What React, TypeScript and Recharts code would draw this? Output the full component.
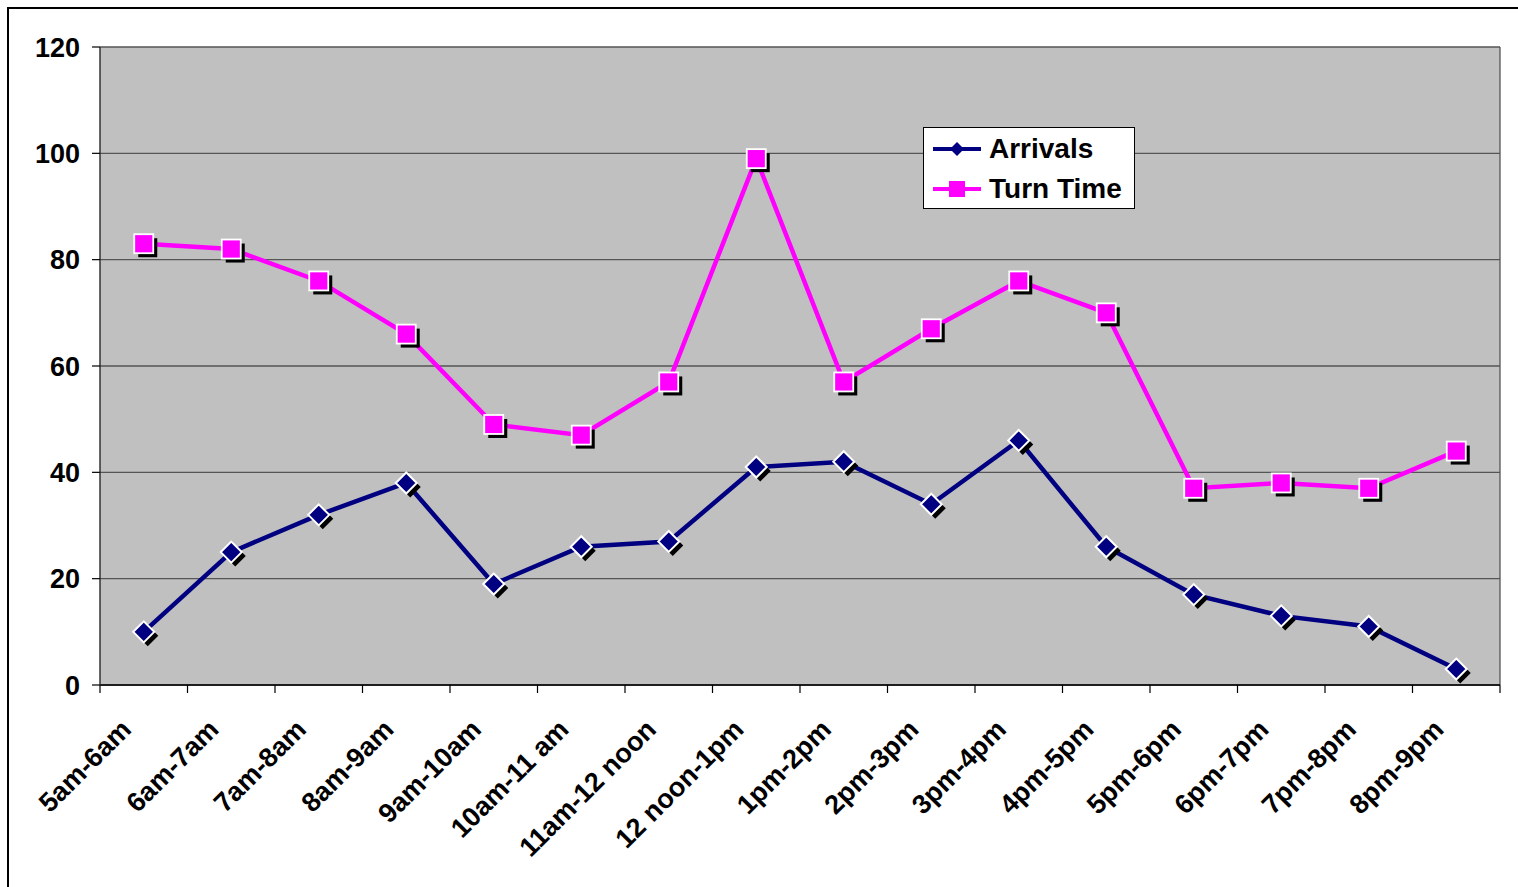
import React from 'react';
import { LineChart, Line, XAxis, YAxis, CartesianGrid } from 'recharts';

const categories = ['5am-6am', '6am-7am', '7am-8am', '8am-9am', '9am-10am', '10am-11 am', '11am-12 noon', '12 noon-1pm', '1pm-2pm', '2pm-3pm', '3pm-4pm', '4pm-5pm', '5pm-6pm', '6pm-7pm', '7pm-8pm', '8pm-9pm'];
const arrivals = [10, 25, 32, 38, 19, 26, 27, 41, 42, 34, 46, 26, 17, 13, 11, 3];
const turnTime = [83, 82, 76, 66, 49, 47, 57, 99, 57, 67, 76, 70, 37, 38, 37, 44];
const yTicks = [0, 20, 40, 60, 80, 100, 120];
const seriesNames = ['Arrivals', 'Turn Time'];

const data = categories.map((name, i) => ({ name, arrivals: arrivals[i], turnTime: turnTime[i] }));

const FONT = '"Liberation Sans", Arial, sans-serif';
const NAVY = '#000080';
const MAGENTA = '#FF00FF';
const BAND = 1400 / categories.length;

const DiamondDot = (props: any) => {
  const { cx, cy, index } = props;
  if (cx == null || cy == null) return <g key={`d${index}`} />;
  const r = 10.5;
  const pts = (ox: number, oy: number) =>
    `${cx + ox},${cy - r + oy} ${cx + r + ox},${cy + oy} ${cx + ox},${cy + r + oy} ${cx - r + ox},${cy + oy}`;
  return (
    <g key={`d${index}`}>
      <polygon points={pts(4, 4)} fill="#000" />
      <polygon points={pts(0, 0)} fill={NAVY} stroke="#fff" strokeWidth={2} />
    </g>
  );
};

const SquareDot = (props: any) => {
  const { cx, cy, index } = props;
  if (cx == null || cy == null) return <g key={`s${index}`} />;
  const s = 9.5;
  return (
    <g key={`s${index}`}>
      <rect x={cx - s + 4} y={cy - s + 4} width={2 * s} height={2 * s} fill="#000" />
      <rect x={cx - s} y={cy - s} width={2 * s} height={2 * s} fill={MAGENTA} stroke="#fff" strokeWidth={1.8} />
    </g>
  );
};

const XTick = (props: any) => {
  const { x, y, payload, index } = props;
  const tx = x - 11;
  const ty = y + 38;
  return (
    <g>
      <line x1={x - BAND / 2} y1={y - 8} x2={x - BAND / 2} y2={y} stroke="#000" strokeWidth={1.2} />
      {index === categories.length - 1 && (
        <line x1={x + BAND / 2} y1={y - 8} x2={x + BAND / 2} y2={y} stroke="#000" strokeWidth={1.2} />
      )}
      <text
        x={tx}
        y={ty}
        textAnchor="end"
        transform={`rotate(-45 ${tx} ${ty})`}
        fontFamily={FONT}
        fontWeight="bold"
        fontSize={27}
        fill="#000"
      >
        {payload.value}
      </text>
    </g>
  );
};

const LegendBox = () => {
  const colors = [NAVY, MAGENTA];
  return (
    <div
      style={{
        position: 'absolute',
        left: 923,
        top: 127,
        width: 210,
        height: 79,
        background: '#fff',
        border: '1px solid #000',
        fontFamily: FONT,
        fontWeight: 'bold',
        fontSize: 28,
        color: '#000',
        paddingTop: 1,
      }}
    >
      {seriesNames.map((label, i) => (
        <div key={label} style={{ display: 'flex', alignItems: 'center', height: 40 }}>
          <svg width={65} height={20}>
            <line x1={9} y1={10} x2={57} y2={10} stroke={colors[i]} strokeWidth={4} />
            {i === 0 ? (
              <polygon points="33,3 40,10 33,17 26,10" fill={colors[i]} />
            ) : (
              <rect x={25} y={2} width={16} height={16} fill={colors[i]} />
            )}
          </svg>
          <span style={{ lineHeight: '40px' }}>{label}</span>
        </div>
      ))}
    </div>
  );
};

export default function App() {
  return (
    <div style={{ position: 'absolute', left: 0, top: 0, width: 1518, height: 887, overflow: 'hidden', background: '#fff' }}>
      <div
        style={{
          position: 'absolute',
          left: 7,
          top: 7,
          width: 1511,
          height: 880,
          borderTop: '2px solid #000',
          borderLeft: '2px solid #000',
          boxSizing: 'border-box',
        }}
      />
      <div style={{ position: 'absolute', left: 0, top: 0 }}>
        <LineChart width={1518} height={887} data={data} margin={{ top: 47, right: 18, left: 40, bottom: 52 }}>
          <CartesianGrid
            fill="#C0C0C0"
            stroke="#555"
            strokeWidth={1.3}
            vertical={true}
            verticalPoints={[1500]}
          />
          <XAxis
            dataKey="name"
            scale="band"
            height={150}
            interval={0}
            tickLine={false}
            tickSize={8}
            tickMargin={0}
            axisLine={{ stroke: '#000', strokeWidth: 1.5 }}
            tick={<XTick />}
          />
          <YAxis
            width={60}
            domain={[0, 120]}
            ticks={yTicks}
            interval={0}
            tickSize={8}
            tickMargin={12}
            axisLine={{ stroke: '#333', strokeWidth: 1.5 }}
            tickLine={{ stroke: '#000', strokeWidth: 1.2 }}
            tick={{ fill: '#000', fontSize: 27, fontWeight: 'bold', fontFamily: FONT }}
          />
          <Line
            dataKey="arrivals"
            name={seriesNames[0]}
            stroke={NAVY}
            strokeWidth={4.5}
            dot={DiamondDot}
            activeDot={false}
            isAnimationActive={false}
          />
          <Line
            dataKey="turnTime"
            name={seriesNames[1]}
            stroke={MAGENTA}
            strokeWidth={4.5}
            dot={SquareDot}
            activeDot={false}
            isAnimationActive={false}
          />
        </LineChart>
      </div>
      <LegendBox />
    </div>
  );
}
